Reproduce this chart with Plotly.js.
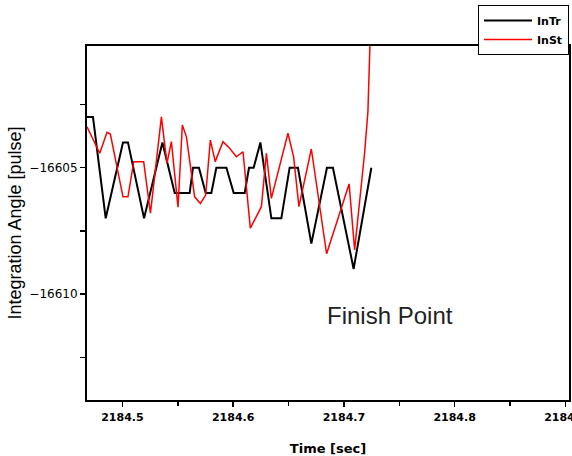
<!DOCTYPE html>
<html>
<head>
<meta charset="utf-8">
<script src="https://cdn.plot.ly/plotly-3.0.1.min.js"></script>
<style>html,body{margin:0;padding:0;background:#fff;}#chart{width:572px;height:456px;}</style>
</head>
<body>
<div id="chart"></div>
<script>
// InTr series (time in s, angle in pulse)
var timeTr = [2184.4680, 2184.4734, 2184.4849, 2184.5005, 2184.5050, 2184.5195, 2184.5361, 2184.5472,
  2184.5607, 2184.5637, 2184.5691, 2184.5752, 2184.5803, 2184.5848, 2184.5939, 2184.6005, 2184.6104,
  2184.6143, 2184.6185, 2184.6246, 2184.6345, 2184.6435, 2184.6510, 2184.6585, 2184.6706, 2184.6847,
  2184.6901, 2184.7088, 2184.7248];
var angleTr = [-16603, -16603, -16607, -16604, -16604, -16607, -16604, -16606,
  -16606, -16605, -16605, -16606, -16606, -16605, -16605, -16606, -16606,
  -16605, -16605, -16604, -16607, -16607, -16605, -16605, -16608, -16605,
  -16605, -16609, -16605];

// InSt series
var timeSt = [2184.4680, 2184.4795, 2184.4861, 2184.4891, 2184.5005, 2184.5050, 2184.5102, 2184.5192,
  2184.5253, 2184.5352, 2184.5402, 2184.5442, 2184.5502, 2184.5541, 2184.5578, 2184.5652, 2184.5704,
  2184.5752, 2184.5794, 2184.5838, 2184.5908, 2184.5968, 2184.6029, 2184.6089, 2184.6155, 2184.6255,
  2184.6300, 2184.6345, 2184.6495, 2184.6546, 2184.6594, 2184.6706, 2184.6844, 2184.6917, 2184.7047,
  2184.7097, 2184.7187, 2184.7217, 2184.7237];
var angleSt = [-16603.38, -16604.43, -16603.60, -16603.67, -16606.15, -16606.15, -16604.76, -16604.76,
  -16606.80, -16602.99, -16604.83, -16603.97, -16606.56, -16603.31, -16603.78, -16606.15, -16606.41,
  -16606.08, -16603.91, -16604.76, -16603.97, -16604.23, -16604.57, -16604.37, -16607.39, -16606.54,
  -16604.43, -16606.21, -16603.64, -16604.57, -16606.54, -16604.26, -16608.40, -16607.39, -16605.64,
  -16608.25, -16604.42, -16602.79, -16599.90];

var seriesNames = ["InTr", "InSt"];
var annotationText = "Finish Point";

var traces = [
  {x: timeTr, y: angleTr, name: seriesNames[0], type: "scatter", mode: "lines",
   line: {color: "#000000", width: 2}},
  {x: timeSt, y: angleSt, name: seriesNames[1], type: "scatter", mode: "lines",
   line: {color: "#ff0000", width: 1.5}}
];

var layout = {
  width: 572, height: 456,
  margin: {l: 87, r: 3, t: 46, b: 56},
  paper_bgcolor: "#ffffff", plot_bgcolor: "#ffffff",
  separators: ".",
  showlegend: true,
  legend: {x: 1, y: 1.116, xanchor: "right", yanchor: "top",
    bgcolor: "#ffffff", bordercolor: "#000000", borderwidth: 1,
    itemwidth: 48,
    font: {family: "DejaVu Sans", size: 11, color: "#000", weight: "bold"}},
  xaxis: {
    range: [2184.468, 2184.9033], showgrid: false, zeroline: false,
    showline: true, linecolor: "#000", linewidth: 2, mirror: true,
    ticks: "outside", ticklen: 5, tickwidth: 1.5, tickcolor: "#000",
    tick0: 2184.5, dtick: 0.1, tickformat: ".1f", ticklabelstandoff: 1,
    ticklabeloverflow: "allow",
    minor: {dtick: 0.05, tick0: 2184.5, ticks: "outside", ticklen: 4, tickwidth: 1.5, tickcolor: "#000", showgrid: false},
    tickfont: {family: "DejaVu Sans", size: 11, color: "#000", weight: "bold"},
    title: {text: "Time [sec]", font: {family: "DejaVu Sans", size: 13, color: "#000", weight: "bold"}, standoff: 22}
  },
  yaxis: {
    range: [-16614.18, -16600.19], showgrid: false, zeroline: false,
    showline: true, linecolor: "#000", linewidth: 2, mirror: true,
    ticks: "outside", ticklen: 5, tickwidth: 1.5, tickcolor: "#000",
    tick0: -16605, dtick: 5, tickformat: "d",
    minor: {dtick: 2.5, tick0: -16605, ticks: "outside", ticklen: 5, tickwidth: 1.5, tickcolor: "#000", showgrid: false},
    tickfont: {family: "DejaVu Sans", size: 12, color: "#000"},
    title: {text: "Integration Angle [pulse]", font: {family: "Liberation Sans", size: 18, color: "#000"}, standoff: 3}
  },
  annotations: [{
    text: annotationText, xref: "paper", yref: "paper", x: 0.629, y: 0.24,
    xanchor: "center", yanchor: "middle", showarrow: false,
    font: {family: "Liberation Sans", size: 24, color: "#222"}
  }]
};

Plotly.newPlot("chart", traces, layout, {displayModeBar: false, staticPlot: true});
</script>
</body>
</html>
